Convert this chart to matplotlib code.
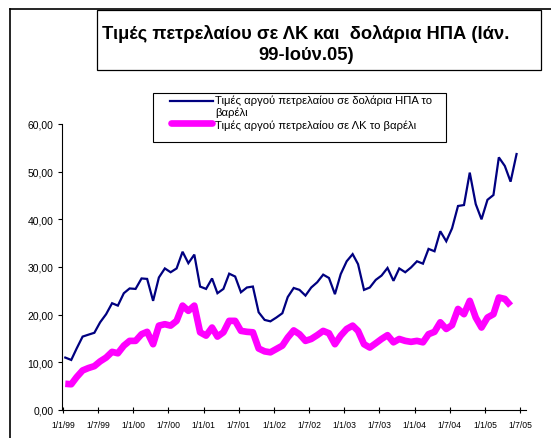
import matplotlib
matplotlib.use("Agg")
import matplotlib.pyplot as plt
import numpy as np
import pandas as pd
from matplotlib.patches import Rectangle
from matplotlib.lines import Line2D

plt.rcParams['font.family'] = ['Liberation Sans', 'DejaVu Sans']

# ---- data (monthly, Jan 1999 - Jun 2005) ----
usd_price = [11.0, 10.5, 12.9, 15.4, 15.8, 16.2, 18.4, 20.1, 22.4, 21.9, 24.5, 25.5,
             25.4, 27.6, 27.5, 22.9, 27.8, 29.7, 28.9, 29.7, 33.2, 30.8, 32.6, 25.9,
             25.4, 27.6, 24.5, 25.4, 28.6, 28.0, 24.7, 25.7, 25.9, 20.5, 18.9, 18.6,
             19.4, 20.3, 23.7, 25.6, 25.2, 24.0, 25.7, 26.8, 28.4, 27.7, 24.3, 28.5,
             31.2, 32.7, 30.6, 25.2, 25.7, 27.3, 28.2, 29.8, 27.1, 29.7, 28.9, 29.9,
             31.2, 30.7, 33.8, 33.3, 37.5, 35.4, 38.1, 42.8, 43.0, 49.8, 43.2, 40.0,
             44.1, 45.1, 53.0, 51.2, 47.9, 53.7]
cyp_price = [5.5, 5.4, 6.9, 8.3, 8.8, 9.2, 10.2, 11.0, 12.2, 11.9, 13.5, 14.5,
             14.5, 15.9, 16.4, 13.8, 17.7, 18.0, 17.7, 18.7, 21.9, 20.8, 21.9, 16.3,
             15.6, 17.3, 15.4, 16.3, 18.7, 18.7, 16.6, 16.4, 16.3, 12.9, 12.3, 12.1,
             12.8, 13.5, 15.2, 16.7, 15.9, 14.5, 14.9, 15.7, 16.6, 16.1, 13.8, 15.6,
             17.0, 17.7, 16.6, 13.8, 13.1, 14.0, 14.9, 15.7, 14.2, 14.9, 14.5, 14.3,
             14.5, 14.2, 15.9, 16.4, 18.4, 17.0, 17.8, 21.2, 20.1, 22.9, 19.4, 17.3,
             19.4, 20.1, 23.6, 23.3, 21.9, np.nan]
months = pd.date_range('1999-01-01', periods=len(usd_price), freq='MS') + pd.Timedelta(days=12)
tick_dates = pd.date_range('1999-01-01', '2005-07-01', freq='6MS')
tick_labels = [f"{d.day}/{d.month}/{d.year % 100:02d}" for d in tick_dates]
y_ticks = [0, 10, 20, 30, 40, 50, 60]
y_labels = [f"{v},00" for v in y_ticks]

title = "Τιμές πετρελαίου σε ΛΚ και  δολάρια ΗΠΑ (Ιάν.\n99-Ιούν.05)"
label_usd = "Τιμές αργού πετρελαίου σε δολάρια ΗΠΑ το\nβαρέλι"
label_cyp = "Τιμές αργού πετρελαίου σε ΛΚ το βαρέλι"

W, H = 551, 439
fig = plt.figure(figsize=(W / 100, H / 100), dpi=100)

def fx(px):
    return px / W

def fy(py):
    return 1 - py / H

ax = fig.add_axes([fx(62), fy(411), fx(526) - fx(62), fy(125) - fy(411)])
ax.plot(months, cyp_price, color='#FF00FF', lw=4.8, solid_joinstyle='round', solid_capstyle='butt')
ax.plot(months, usd_price, color='#000080', lw=1.6, solid_joinstyle='miter')

ax.set_ylim(0, 60)
ax.set_xlim(pd.Timestamp('1998-12-27'), pd.Timestamp('2005-08-01'))
ax.set_yticks(y_ticks)
ax.set_yticklabels(y_labels, fontsize=7.5)
ax.set_xticks(tick_dates)
ax.set_xticklabels(tick_labels, fontsize=6.2)
ax.tick_params(axis='y', direction='out', length=3, width=0.8, pad=3)
ax.tick_params(axis='x', direction='inout', length=5, width=0.8, pad=5)
for s in ['top', 'right']:
    ax.spines[s].set_visible(False)
for s in ['left', 'bottom']:
    ax.spines[s].set_linewidth(0.8)
ax.patch.set_visible(False)

# outer chart border
fig.add_artist(Line2D([fx(10), fx(10)], [fy(10), fy(445)], color='black', lw=1.2))
fig.add_artist(Line2D([fx(10), fx(560)], [fy(10), fy(10)], color='black', lw=1.2))

# title box
fig.add_artist(Rectangle((fx(97), fy(71)), fx(541) - fx(97), fy(11) - fy(71),
                         fill=False, edgecolor='black', lw=0.9))
fig.text(fx(306), fy(44.5), title, ha='center', va='center', fontsize=13.2,
         fontweight='bold', linespacing=1.3)

# legend box
fig.add_artist(Rectangle((fx(153), fy(143)), fx(446) - fx(153), fy(94) - fy(143),
                         fill=True, facecolor='white', edgecolor='black', lw=0.8))
fig.add_artist(Line2D([fx(170), fx(213)], [fy(101.5), fy(101.5)], color='#000080', lw=1.6))
fig.add_artist(Line2D([fx(171), fx(212)], [fy(123.5), fy(123.5)], color='#FF00FF', lw=4.8,
                      solid_capstyle='round'))
fig.text(fx(215), fy(95.5), label_usd, ha='left', va='top', fontsize=8.1, linespacing=1.15)
fig.text(fx(215), fy(126), label_cyp, ha='left', va='center', fontsize=8.1)

fig.savefig('out.png', dpi=100)
